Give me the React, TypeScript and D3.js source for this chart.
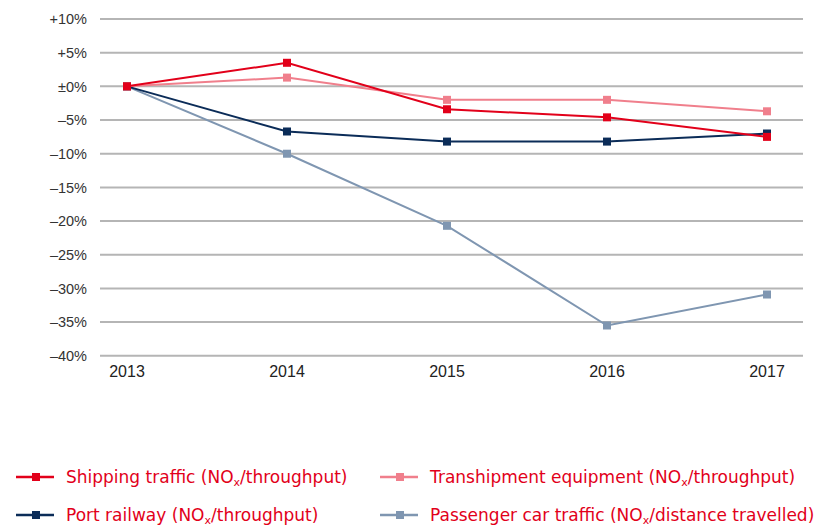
import React from "react";
import * as d3 from "d3";

const years = ["2013", "2014", "2015", "2016", "2017"];
const shipping = [0, 3.5, -3.4, -4.6, -7.5];
const transhipment = [0, 1.3, -2.0, -2.0, -3.7];
const railway = [0, -6.7, -8.2, -8.2, -7.0];
const passenger = [0, -10.0, -20.7, -35.5, -30.9];
const yTicks = [10, 5, 0, -5, -10, -15, -20, -25, -30, -35, -40];
const tickLabel = (v: number) => (v > 0 ? `+${v}%` : v === 0 ? "±0%" : `–${Math.abs(v)}%`);

const seriesNames = [
  "Shipping traffic",
  "Transhipment equipment",
  "Port railway",
  "Passenger car traffic",
];
const seriesUnits = ["throughput", "throughput", "throughput", "distance travelled"];
const seriesData = [shipping, transhipment, railway, passenger];
const colors = ["#e2001a", "#f07f8c", "#0b2c58", "#7f96b1"];
const drawOrder = [3, 2, 1, 0];
const legendPos = [
  [16, 477],
  [380, 477],
  [16, 515],
  [380, 515],
];

export default function App() {
  const W = 825, H = 526;
  const x = d3.scalePoint<string>().domain(years).range([127, 767]);
  const y = d3.scaleLinear().domain([-40, 10]).range([355.8, 19]);
  const line = d3
    .line<number>()
    .x((_, i) => x(years[i]) as number)
    .y((d) => y(d));
  const red = "#e2001a";
  return (
    <svg width={W} height={H} style={{ position: "absolute", left: 0, top: 0, background: "#fff" }}>
      {yTicks.map((t) => (
        <g key={t}>
          <line x1={100} x2={803} y1={y(t)} y2={y(t)} stroke="#b5b5b5" strokeWidth={2} />
          <text
            x={87}
            y={y(t)}
            dy="0.36em"
            textAnchor="end"
            fontFamily="Liberation Sans"
            fontSize={14.5}
            fill="#333"
          >
            {tickLabel(t)}
          </text>
        </g>
      ))}
      {years.map((yr) => (
        <text
          key={yr}
          x={x(yr)}
          y={377}
          textAnchor="middle"
          fontFamily="Liberation Sans"
          fontSize={16}
          fill="#222"
        >
          {yr}
        </text>
      ))}
      {drawOrder.map((si) => (
        <g key={si}>
          <path d={line(seriesData[si]) || ""} fill="none" stroke={colors[si]} strokeWidth={2} />
          {seriesData[si].map((v, i) => (
            <rect
              key={i}
              x={(x(years[i]) as number) - 4}
              y={y(v) - 4}
              width={8}
              height={8}
              fill={colors[si]}
            />
          ))}
        </g>
      ))}
      {seriesNames.map((n, si) => {
        const [lx, ly] = legendPos[si];
        return (
          <g key={n}>
            <line x1={lx} x2={lx + 38} y1={ly} y2={ly} stroke={colors[si]} strokeWidth={2.5} />
            <rect x={lx + 16} y={ly - 4} width={8} height={8} fill={colors[si]} />
            <text x={lx + 50} y={ly + 6} fontFamily="DejaVu Sans" fontSize={17} fill={red}>
              {n} (NO
              <tspan fontSize={11} dy={3}>x</tspan>
              <tspan dy={-3}>/{seriesUnits[si]})</tspan>
            </text>
          </g>
        );
      })}
    </svg>
  );
}
